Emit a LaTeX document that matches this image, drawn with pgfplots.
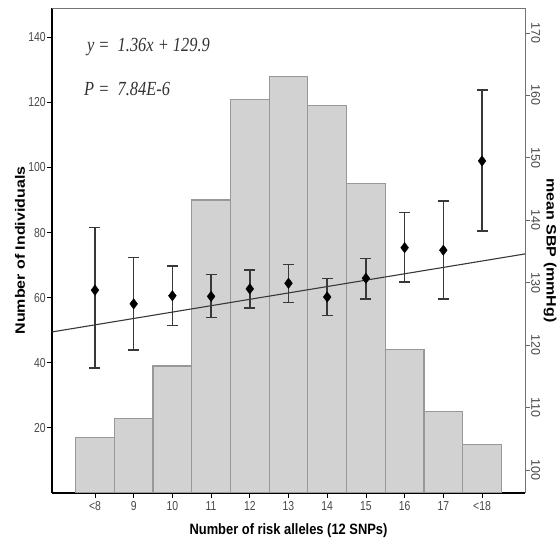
\documentclass[border=0pt]{standalone}
\usepackage{fontspec}
\setmainfont{Liberation Sans}
\newfontfamily\timesfont{Liberation Serif}
\usepackage{pgfplots}
\usepackage{pgfplotstable}
\pgfplotsset{compat=1.18}
\definecolor{barfill}{HTML}{D2D2D2}
\definecolor{baredge}{HTML}{989898}
\definecolor{errcol}{HTML}{383838}

% counts per category (left axis)
\pgfplotstableread{
idx n
0 17
1 23
2 39
3 90
4 121
5 128
6 119
7 95
8 44
9 25
10 15
}\countdata

% mean SBP with error bar lengths (right axis)
\pgfplotstableread{
idx sbp up lo
0 128.8 10.0 12.5
1 126.6 7.4 7.4
2 127.9 4.8 4.8
3 127.8 3.5 3.4
4 129.0 3.0 3.1
5 129.9 3.0 3.1
6 127.7 3.0 3.0
7 130.7 3.2 3.3
8 135.6 5.6 5.5
9 135.2 7.9 7.8
10 149.5 11.4 11.2
}\sbpdata

\begin{document}
\begin{tikzpicture}
\begin{axis}[
    scale only axis,
    width=473pt, height=485pt,
    xmin=-1.11, xmax=11.11,
    ymin=0, ymax=149,
    axis x line*=bottom, axis y line*=left,
    axis line style={-, black, line width=1.3pt},
    xtick={0,...,10},
    xticklabels={<8,9,10,11,12,13,14,15,16,17,<18},
    ytick={20,40,...,140},
    tick align=outside, major tick length=5pt,
    tick style={black, line width=0.8pt},
    /pgf/number format/assume math mode=true,
    ticklabel style={font=\fontsize{13}{13}\selectfont, text=black!72, xscale=0.8},
    yticklabel style={inner sep=1.5pt},
    xlabel={\scalebox{0.86}[1]{\fontsize{15}{15}\selectfont\bfseries Number of risk alleles (12 SNPs)}},
    every axis x label/.style={at={(axis description cs:0.5,-0.078)}, anchor=center},
    ylabel={\scalebox{1}[0.85]{\fontsize{16}{16}\selectfont\bfseries Number of Individuals}},
    every axis y label/.style={at={(axis description cs:-0.0677,0.5)}, rotate=90, anchor=center},
]
\addplot[ybar, bar width=1, fill=barfill, draw=baredge, line width=1.2pt] table[x=idx, y=n]{\countdata};
\node[anchor=west, font=\timesfont\itshape\fontsize{20}{20}\selectfont, text=black!80, xscale=0.82]
    at (axis description cs:0.068,0.92) {y = ~1.36x + 129.9};
\node[anchor=west, font=\timesfont\itshape\fontsize{20}{20}\selectfont, text=black!80, xscale=0.82]
    at (axis description cs:0.062,0.833) {P = ~7.84E-6};
\end{axis}

\begin{axis}[
    scale only axis,
    width=473pt, height=485pt,
    xmin=-1.11, xmax=11.11,
    ymin=96.3, ymax=174,
    axis x line*=top, axis y line*=right,
    axis line style={-, black!55, line width=0.8pt},
    xtick=\empty,
    ytick={100,110,...,170},
    tick align=outside, major tick length=5pt,
    tick style={black!60, line width=0.6pt},
    /pgf/number format/assume math mode=true,
    yticklabel style={font=\fontsize{12.5}{12.5}\selectfont, text=black!72, rotate=-90, anchor=south, inner sep=1pt},
    ylabel={\scalebox{1}[0.85]{\fontsize{16}{16}\selectfont\bfseries mean SBP (mmHg)}},
    every axis y label/.style={at={(axis description cs:1.0529,0.5)}, rotate=-90, anchor=center},
]
\addplot[errcol, line width=1.1pt] coordinates {(-1.11,122.1) (11.11,134.6)};
\addplot[only marks, mark=diamond*, mark size=5.2pt, black,
    error bars/.cd, y dir=both, y explicit,
    error bar style={errcol, line width=1.5pt},
    error mark options={rotate=90, mark size=5.5pt, errcol, line width=1.5pt}]
    table[x=idx, y=sbp, y error plus=up, y error minus=lo]{\sbpdata};
\end{axis}
\pgfresetboundingbox
\path ([shift={(-52pt,-54pt)}]current axis.south west) rectangle ([shift={(35pt,8pt)}]current axis.north east);
\end{tikzpicture}
\end{document}
